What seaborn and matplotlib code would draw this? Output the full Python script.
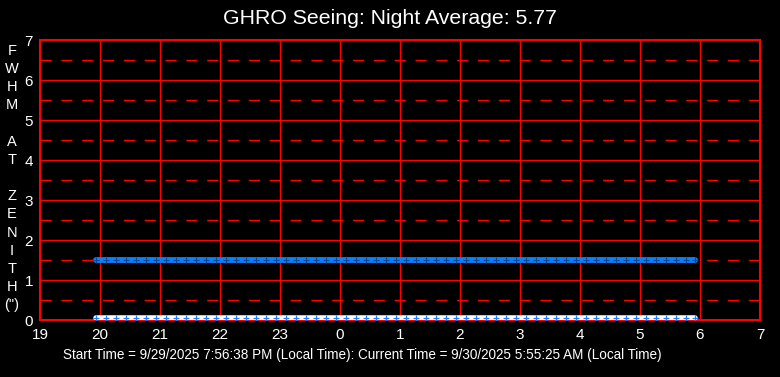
import matplotlib
matplotlib.use("Agg")
import matplotlib.pyplot as plt
import seaborn as sns
import pandas as pd

# sample times (local time, every ~10 min)
times = ["19:56", "20:06", "20:16", "20:26", "20:36", "20:46", "20:56",
         "21:06", "21:16", "21:26", "21:36", "21:46", "21:56",
         "22:06", "22:16", "22:26", "22:36", "22:46", "22:56",
         "23:06", "23:16", "23:26", "23:36", "23:46", "23:56",
         "00:06", "00:16", "00:26", "00:36", "00:46", "00:56",
         "01:06", "01:16", "01:26", "01:36", "01:46", "01:56",
         "02:06", "02:16", "02:26", "02:36", "02:46", "02:56",
         "03:06", "03:16", "03:26", "03:36", "03:46", "03:56",
         "04:06", "04:16", "04:26", "04:36", "04:46", "04:56",
         "05:06", "05:16", "05:26", "05:36", "05:46", "05:55"]
fwhm = [1.5] * len(times)
baseline = [0.04] * len(times)
x_ticks = [19, 20, 21, 22, 23, 24, 25, 26, 27, 28, 29, 30, 31]
x_tick_labels = ["19", "20", "21", "22", "23", "0", "1", "2", "3", "4", "5", "6", "7"]
y_ticks = [0, 1, 2, 3, 4, 5, 6, 7]


def to_hours(s):
    h, m = s.split(":")
    v = int(h) + int(m) / 60.0
    return v + 24 if v < 12 else v


df = pd.DataFrame({"t": [to_hours(s) for s in times], "fwhm": fwhm, "base": baseline})

sns.set_style("dark")
plt.rcParams["font.family"] = ["Liberation Sans", "DejaVu Sans"]

fig = plt.figure(figsize=(7.8, 3.77), dpi=100, facecolor="black")
ax = fig.add_axes([40 / 780, 57 / 377, 720 / 780, 280 / 377])
ax.set_facecolor("black")

RED = "#ff0000"
# grid
for y in y_ticks:
    ax.axhline(y, color=RED, lw=1.0, zorder=1)
for y in [0.5, 1.5, 2.5, 3.5, 4.5, 5.5, 6.5]:
    ax.axhline(y, color=RED, lw=1.0, dashes=(8, 7), zorder=1)
for x in x_ticks:
    ax.axvline(x, color=RED, lw=1.0, zorder=1)

sns.lineplot(data=df, x="t", y="base", ax=ax, color="white", lw=4.0,
             marker="+", markersize=4, markeredgecolor="#1e80ff",
             markeredgewidth=0.9, zorder=3)
sns.lineplot(data=df, x="t", y="fwhm", ax=ax, color="#0a80ff", lw=4.2,
             marker="+", markersize=4, markeredgecolor="#054a9a",
             markeredgewidth=0.8, zorder=3)

ax.set_xlim(19, 31)
ax.set_ylim(0, 7)
ax.set_xticks(x_ticks)
ax.set_xticklabels(x_tick_labels)
ax.set_yticks(y_ticks)
ax.tick_params(colors="white", labelsize=11, length=0, pad=6)
ax.tick_params(axis="y", pad=5)
ax.set_xlabel("")
ax.set_ylabel("")
for sp in ax.spines.values():
    sp.set_color(RED)
    sp.set_linewidth(1.5)
    sp.set_visible(True)

fig.text(0.5, 1 - 18 / 377, "GHRO Seeing: Night Average: 5.77", color="white",
         fontsize=15.3, ha="center", va="center")
fig.text(12 / 780, 1 - 178 / 377, "F\nW\nH\nM\n\nA\nT\n\nZ\nE\nN\nI\nT\nH\n(\")",
         color="white", fontsize=10.5, ha="center", va="center", linespacing=1.38)
fig.text(362 / 780, 1 - 355 / 377,
         "Start Time = 9/29/2025 7:56:38 PM (Local Time): Current Time = 9/30/2025 5:55:25 AM (Local Time)",
         color="white", fontsize=9.75, ha="center", va="center")

fig.savefig("out.png", dpi=100, facecolor="black")
